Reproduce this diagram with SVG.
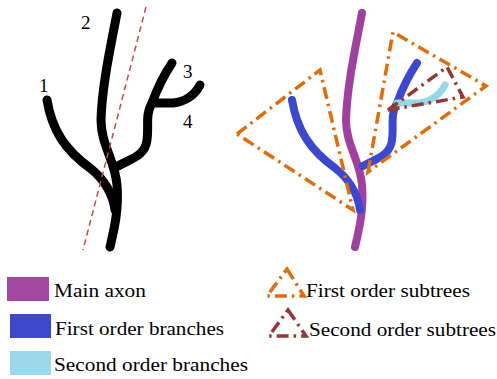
<svg xmlns="http://www.w3.org/2000/svg" width="497" height="379" viewBox="0 0 497 379">
<style>
.blk{fill:none;stroke:#000;stroke-width:9;stroke-linecap:round;stroke-linejoin:round}
.ax{fill:none;stroke:#a040a0;stroke-width:8;stroke-linecap:round;stroke-linejoin:round}
.b1{fill:none;stroke:#3c48cf;stroke-width:8;stroke-linecap:round;stroke-linejoin:round}
.b2{fill:none;stroke:#93d8e8;stroke-width:7;stroke-linecap:round;stroke-linejoin:round}
.t1{fill:none;stroke:#e36c0a;stroke-width:3.5;stroke-dasharray:12 5 2.5 5}
.t2{fill:none;stroke:#953735;stroke-width:3.5;stroke-dasharray:12 5 2.5 5}
.red{fill:none;stroke:#c8484a;stroke-width:1.5;stroke-dasharray:6 4}
text{font-family:"Liberation Serif","Times New Roman",serif;font-size:19px;fill:#000}
</style>
<defs>
<path id="pMain" d="M117,13 C111,45 102,85 101,120 C101,145 115,160 117,185 C119,210 114,230 110,247"/>
<path id="pB1" d="M47,100 C52,130 65,150 90,168 C105,180 113,195 115,210"/>
<path id="pB3" d="M118,166 C132,158 145,156 147,140 C149,125 145,115 152,103 C156,92 162,78 172,63"/>
<path id="pB4" d="M152,103 L173,103 C185,102 195,95 200,85"/>
</defs>
<g id="left-tree">
<use href="#pMain" class="blk"/>
<use href="#pB1" class="blk"/>
<use href="#pB3" class="blk"/>
<use href="#pB4" class="blk"/>
<path class="red" d="M146,7 L83,250"/>
<text x="39" y="92">1</text>
<text x="81" y="29">2</text>
<text x="183" y="78">3</text>
<text x="183" y="128">4</text>
</g>
<g id="right-tree">
<g transform="translate(245,0)">
<use href="#pMain" class="ax"/>
<use href="#pB1" class="b1"/>
<use href="#pB3" class="b1"/>
<use href="#pB4" class="b2"/>
</g>
<path class="t1" d="M237,134 L320,70 L353,210 Z"/>
<path class="t1" d="M368,172 L393,32 L486,86 Z"/>
<path class="t2" d="M388,110 L447,67 L463,97 Z"/>
</g>
<g id="legend">
<rect x="7" y="277" width="42" height="24" fill="#a349a4"/>
<rect x="10" y="314" width="41" height="24" fill="#3f48cc"/>
<rect x="10" y="351" width="41" height="24" fill="#99d9ea"/>
<text x="54" y="297" textLength="92" lengthAdjust="spacingAndGlyphs">Main axon</text>
<text x="55" y="335" textLength="169" lengthAdjust="spacingAndGlyphs">First order branches</text>
<text x="54" y="371" textLength="194" lengthAdjust="spacingAndGlyphs">Second order branches</text>
<path class="t1" d="M287,269 L304,296 L267,296 Z"/>
<path class="t2" d="M288,310 L306,336 L269,336 Z"/>
<text x="306" y="297" textLength="164" lengthAdjust="spacingAndGlyphs">First order subtrees</text>
<text x="309" y="336" textLength="187" lengthAdjust="spacingAndGlyphs">Second order subtrees</text>
</g>
</svg>
